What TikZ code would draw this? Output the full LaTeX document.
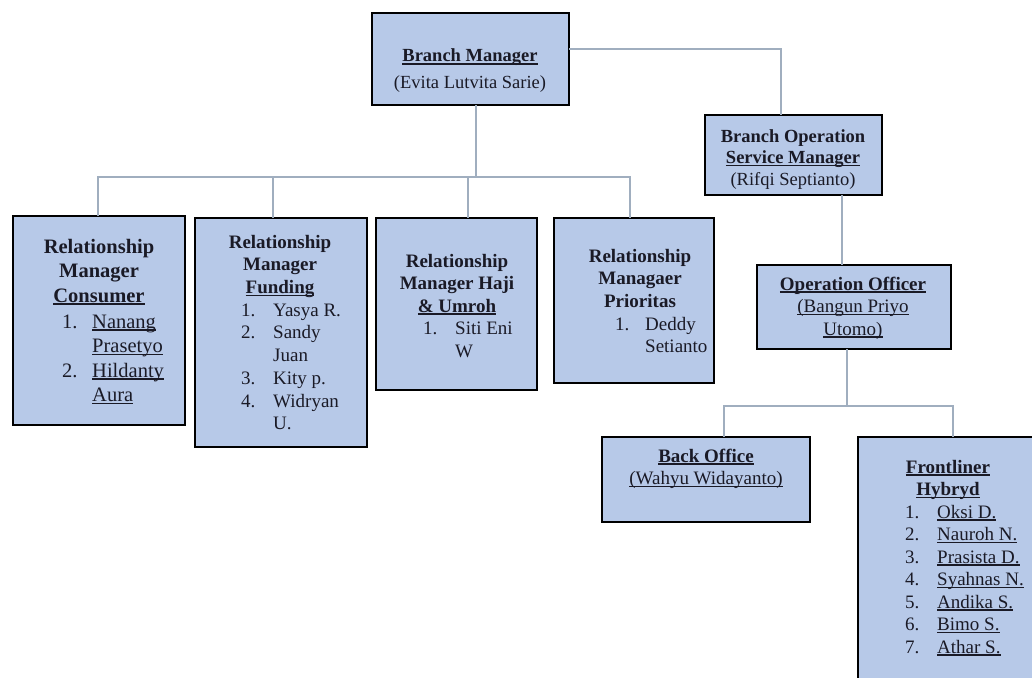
\documentclass[tikz,border=0pt]{standalone}
\usepackage{fontspec}
\setmainfont{Liberation Serif}
\newcommand{\uline}[1]{\setbox0\hbox{#1}\rlap{\rule[-2.6pt]{\wd0}{1.2pt}}\box0}
\definecolor{boxfill}{HTML}{B7C9E8}
\definecolor{txt}{HTML}{1A1A26}
\definecolor{conn}{HTML}{A0AEBF}
\tikzset{
 orgbox/.style={draw=black, fill=boxfill, line width=2.4pt, inner sep=0pt, outer sep=0pt, rectangle},
 conline/.style={draw=conn, line width=1.6pt},
 ttl/.style={anchor=base, inner sep=0pt, text=txt, font=\fontsize{19}{22.5}\selectfont\bfseries},
 lst/.style={anchor=base west, inner sep=0pt, text=txt, font=\fontsize{19}{22.5}\selectfont},
}
\newcommand{\orgtab}[1]{\begin{tabular}[t]{@{}c@{}}#1\end{tabular}}
\newcommand{\orglist}[1]{\begin{tabular}[t]{@{}l@{}l@{}}#1\end{tabular}}
\newcommand{\nr}[2]{\makebox[#1][l]{#2}}
\begin{document}
\begin{tikzpicture}[x=1pt,y=-1pt]
\useasboundingbox (0,0) rectangle (1032,677);
\clip (0,0) rectangle (1032,677);
\fill[white] (0,0) rectangle (1032,677);
% boxes
\node[orgbox, minimum width=197pt, minimum height=92pt] (bm) at (470.5,59) {};
\node[orgbox, minimum width=177pt, minimum height=80pt] (bosm) at (793.5,155) {};
\node[orgbox, minimum width=194pt, minimum height=84pt] (oo) at (854,307) {};
\node[orgbox, minimum width=208pt, minimum height=85pt] (bo) at (706,479.5) {};
\node[orgbox, minimum width=182pt, minimum height=253pt] (fl) at (949,563.5) {};
\node[orgbox, minimum width=172pt, minimum height=209pt] (cons) at (99,320.5) {};
\node[orgbox, minimum width=172pt, minimum height=229pt] (fund) at (281,332.5) {};
\node[orgbox, minimum width=161pt, minimum height=172pt] (haji) at (456.5,304) {};
\node[orgbox, minimum width=160pt, minimum height=165pt] (prio) at (634,300.5) {};
% connectors
\coordinate (bmjoin) at (476,177);
\coordinate (oojoin) at (847,406);
\draw[conline] ([xshift=5.5pt]bm.south) -- (bmjoin);
\draw[conline] ([xshift=-1pt]cons.north) |- (bmjoin);
\draw[conline] ([xshift=-8pt]fund.north) |- (bmjoin);
\draw[conline] ([xshift=11.5pt]haji.north) |- (bmjoin);
\draw[conline] ([xshift=-4pt]prio.north) |- (bmjoin);
\draw[conline] ([yshift=10pt]bm.east) -| ([xshift=-12.5pt]bosm.north);
\draw[conline] ([xshift=-12pt]oo.north) -- ([xshift=-12pt]oo.north |- bosm.south);
\draw[conline] ([xshift=-7pt]oo.south) -- (oojoin);
\draw[conline] ([xshift=18pt]bo.north) |- (oojoin);
\draw[conline] ([xshift=4pt]fl.north) |- (oojoin);
% texts
\node[ttl, font=\fontsize{18.5}{26}\selectfont\bfseries] (bmt) at (470,62) {\orgtab{\uline{Branch Manager}\\\mdseries (Evita Lutvita Sarie)}};
\node[ttl, font=\fontsize{18.5}{21.5}\selectfont\bfseries] (bosmt) at (793,142) {\orgtab{Branch Operation\\\uline{Service Manager}\\\mdseries (Rifqi Septianto)}};
\node[ttl] (oot) at (853,290) {\orgtab{\uline{Operation Officer}\\\mdseries\uline{(Bangun Priyo}\\\mdseries\uline{Utomo)}}};
\node[ttl] (bot) at (706,462) {\orgtab{\uline{Back Office}\\\mdseries\uline{(Wahyu Widayanto)}}};
\node[ttl] (flt) at (948,473) {\orgtab{\uline{Frontliner}\\\uline{Hybryd}}};
\node[lst] (fll) at (905,518) {\orglist{\nr{32pt}{1.} & \uline{Oksi D.}\\ \nr{32pt}{2.} & \uline{Nauroh N.}\\ \nr{32pt}{3.} & \uline{Prasista D.}\\ \nr{32pt}{4.} & \uline{Syahnas N.}\\ \nr{32pt}{5.} & \uline{Andika S.}\\ \nr{32pt}{6.} & \uline{Bimo S.}\\ \nr{32pt}{7.} & \uline{Athar S.}}};
\node[ttl, font=\fontsize{20.5}{24.5}\selectfont\bfseries] (const) at (99,253) {\orgtab{Relationship\\Manager\\\uline{Consumer}}};
\node[lst, font=\fontsize{20.5}{24.5}\selectfont] (consl) at (62,328) {\orglist{\nr{30pt}{1.} & \uline{Nanang}\\ & \uline{Prasetyo}\\ \nr{30pt}{2.} & \uline{Hildanty}\\ & \uline{Aura}}};
\node[ttl, font=\fontsize{19}{22.75}\selectfont\bfseries] (fundt) at (280,248) {\orgtab{Relationship\\Manager\\\uline{Funding}}};
\node[lst, font=\fontsize{19}{22.75}\selectfont] (fundl) at (241,316) {\orglist{\nr{32pt}{1.} & Yasya R.\\ \nr{32pt}{2.} & Sandy\\ & Juan\\ \nr{32pt}{3.} & Kity p.\\ \nr{32pt}{4.} & Widryan\\ & U.}};
\node[ttl] (hajit) at (457,267) {\orgtab{Relationship\\Manager Haji\\\uline{\& Umroh}}};
\node[lst] (hajil) at (423,334.5) {\orglist{\nr{32pt}{1.} & Siti Eni\\ & W}};
\node[ttl] (priot) at (640,262) {\orgtab{Relationship\\Managaer\\Prioritas}};
\node[lst] (priol) at (615,330) {\orglist{\nr{30pt}{1.} & Deddy\\ & Setianto}};
\end{tikzpicture}
\end{document}
